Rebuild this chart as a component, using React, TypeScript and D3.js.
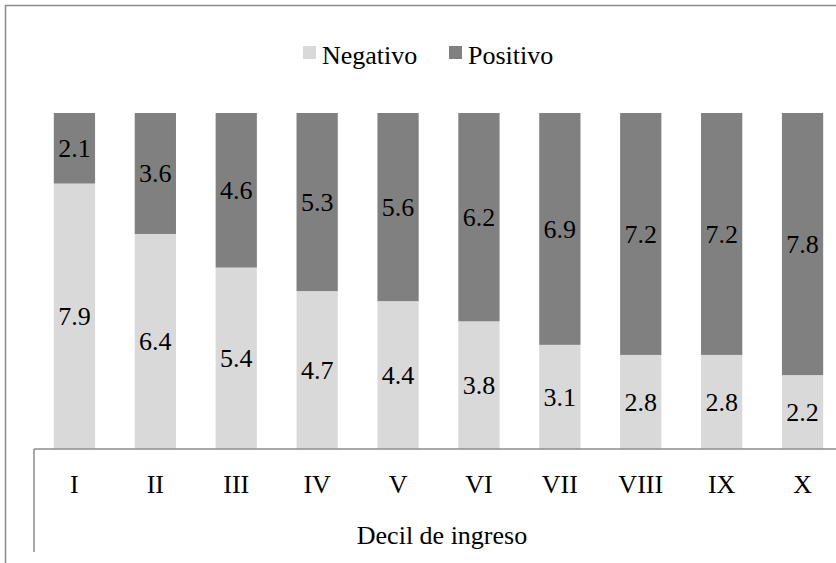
import React from "react";
import * as d3 from "d3";

const categories = ["I", "II", "III", "IV", "V", "VI", "VII", "VIII", "IX", "X"];
const negativo = [7.9, 6.4, 5.4, 4.7, 4.4, 3.8, 3.1, 2.8, 2.8, 2.2];
const positivo = [2.1, 3.6, 4.6, 5.3, 5.6, 6.2, 6.9, 7.2, 7.2, 7.8];
const seriesNames = ["Negativo", "Positivo"];
const colors = ["#d9d9d9", "#808080"];
const axisTitle = "Decil de ingreso";

const W = 836;
const H = 563;
const FONT = "Liberation Serif";
const FS = 26;

export default function App() {
  const x = d3
    .scaleBand<string>()
    .domain(categories)
    .range([34, 34 + 80.9 * categories.length])
    .paddingInner(0.49)
    .paddingOuter(0.245);
  const y = d3.scaleLinear().domain([0, 10]).range([449, 113]);

  const rows = categories.map((c, i) => ({ cat: c, Negativo: negativo[i], Positivo: positivo[i] }));
  const stacked = d3.stack<any>().keys(seriesNames)(rows);

  return (
    <svg
      width={W}
      height={H}
      style={{ position: "absolute", left: 0, top: 0, background: "#fff", fontFamily: FONT }}
    >
      <rect x={0} y={0} width={W} height={H} fill="#fff" />
      <path d={`M5.5,${H} V5.5 H${W}`} fill="none" stroke="#8c8c8c" strokeWidth={1.5} />

      {stacked.map((s, si) =>
        s.map((d, i) => {
          const x0 = x(categories[i])!;
          const y0 = y(d[1]);
          const h = y(d[0]) - y(d[1]);
          const v = d[1] - d[0];
          return (
            <g key={`${si}-${i}`}>
              <rect x={x0} y={y0} width={x.bandwidth()} height={h} fill={colors[si]} />
              <text
                x={x0 + x.bandwidth() / 2}
                y={y0 + h / 2}
                dy="0.34em"
                textAnchor="middle"
                fontSize={FS}
                fill="#000"
              >
                {v.toFixed(1)}
              </text>
            </g>
          );
        })
      )}

      <line x1={34} x2={W} y1={449} y2={449} stroke="#8c8c8c" strokeWidth={1.5} />
      <line x1={34} x2={34} y1={449} y2={552} stroke="#8c8c8c" strokeWidth={1.5} />

      {categories.map((c) => (
        <text
          key={c}
          x={x(c)! + x.bandwidth() / 2}
          y={493}
          textAnchor="middle"
          fontSize={FS}
          fill="#000"
        >
          {c}
        </text>
      ))}
      <text x={442} y={544} textAnchor="middle" fontSize={FS} fill="#000">
        {axisTitle}
      </text>

      <rect x={303} y={46} width={13} height={13} fill={colors[0]} />
      <text x={322} y={64} fontSize={FS} fill="#000">
        {seriesNames[0]}
      </text>
      <rect x={449} y={46} width={13} height={13} fill={colors[1]} />
      <text x={468} y={64} fontSize={FS} fill="#000">
        {seriesNames[1]}
      </text>
    </svg>
  );
}
